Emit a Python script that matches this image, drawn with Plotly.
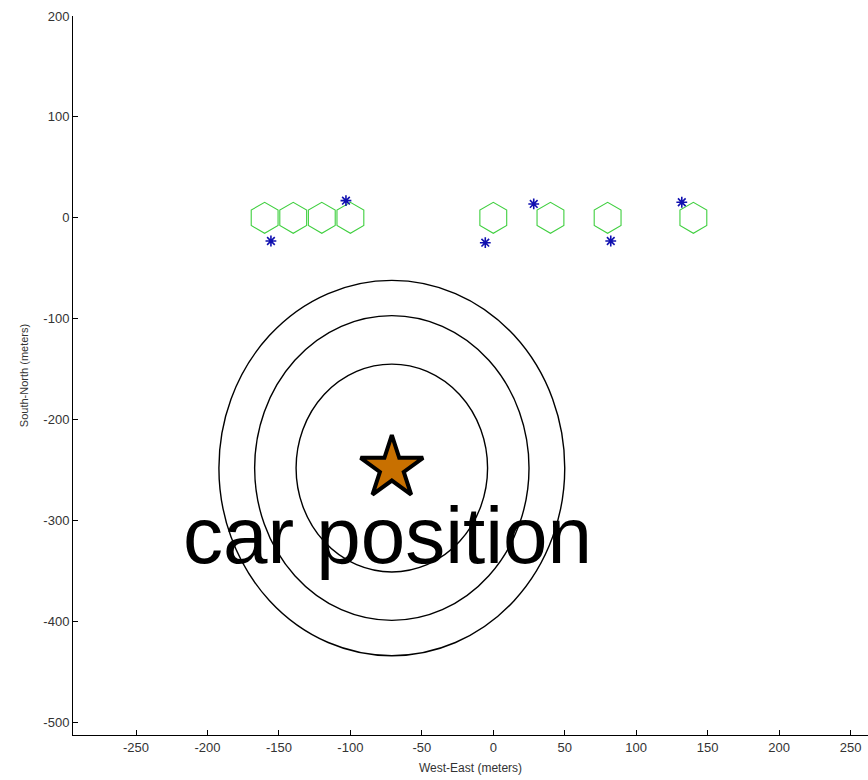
import plotly.graph_objects as go

# Building footprints (hexagons) along the West-East line, meters
bldg_x = [-160, -140, -120, -100, 0, 40, 80, 140]
bldg_y = [0, 0, 0, 0, 0, 0, 0, 0]

# Detected landmarks (asterisks), meters
mark_x = [-155.6, -103.1, -5.6, 28.3, 82.2, 131.9]
mark_y = [-23, 17, -24.7, 13.7, -23, 15.4]

# Car position and uncertainty rings (semi-axes in meters)
car_x = [-71]
car_y = [-248]
ring_rx = [67, 96, 121]
ring_ry = [103, 151, 186]

x_ticks = [-250, -200, -150, -100, -50, 0, 50, 100, 150, 200, 250]
y_ticks = [200, 100, 0, -100, -200, -300, -400, -500]
x_labels = [str(v) for v in x_ticks]
y_labels = [str(v) for v in y_ticks]

fig = go.Figure()

fig.add_trace(go.Scatter(
    x=bldg_x, y=bldg_y, mode="markers",
    marker=dict(symbol="hexagon-open", size=31, color="#3fcf3f",
                line=dict(color="#3fcf3f", width=1.1)),
    hoverinfo="skip", showlegend=False))

fig.add_trace(go.Scatter(
    x=mark_x, y=mark_y, mode="markers",
    marker=dict(symbol="asterisk-open", size=9, color="#1010b0",
                line=dict(color="#1010b0", width=1.6)),
    hoverinfo="skip", showlegend=False))

for rx, ry in zip(ring_rx, ring_ry):
    fig.add_shape(type="circle", xref="x", yref="y",
                  x0=car_x[0] - rx, x1=car_x[0] + rx,
                  y0=car_y[0] - ry, y1=car_y[0] + ry,
                  line=dict(color="black", width=1.4))

fig.add_trace(go.Scatter(
    x=car_x, y=car_y, mode="markers",
    marker=dict(symbol="star", size=47, color="#c87000",
                line=dict(color="black", width=4)),
    hoverinfo="skip", showlegend=False))

fig.add_annotation(x=-74, y=car_y[0] - 21, xref="x", yref="y",
                   text="car position", showarrow=False,
                   xanchor="center", yanchor="top",
                   font=dict(family="Liberation Sans, Arial", size=80, color="black"))

axis_font = dict(family="Liberation Sans, Arial", size=13, color="#333333")

fig.update_xaxes(range=[-294.1, 262.2], tickvals=x_ticks, ticktext=x_labels,
                 ticks="inside", ticklen=5, tickcolor="black", showline=True,
                 linecolor="black", linewidth=1, showgrid=False, zeroline=False,
                 tickfont=axis_font,
                 title=dict(text="West-East (meters)", standoff=10,
                            font=dict(family="Liberation Sans, Arial", size=12,
                                      color="#333333")))
fig.update_yaxes(range=[-512.6, 200], tickvals=y_ticks, ticktext=y_labels,
                 ticks="inside", ticklen=5, tickcolor="black", showline=True,
                 linecolor="black", linewidth=1, showgrid=False, zeroline=False,
                 tickfont=axis_font,
                 title=dict(text="South-North (meters)", standoff=12,
                            font=dict(family="Liberation Sans, Arial", size=11,
                                      color="#333333")))

fig.update_layout(width=868, height=780, plot_bgcolor="white", paper_bgcolor="white",
                  margin=dict(l=73, r=0, t=16, b=45))

fig.write_html("out.html", config={"displayModeBar": False})
